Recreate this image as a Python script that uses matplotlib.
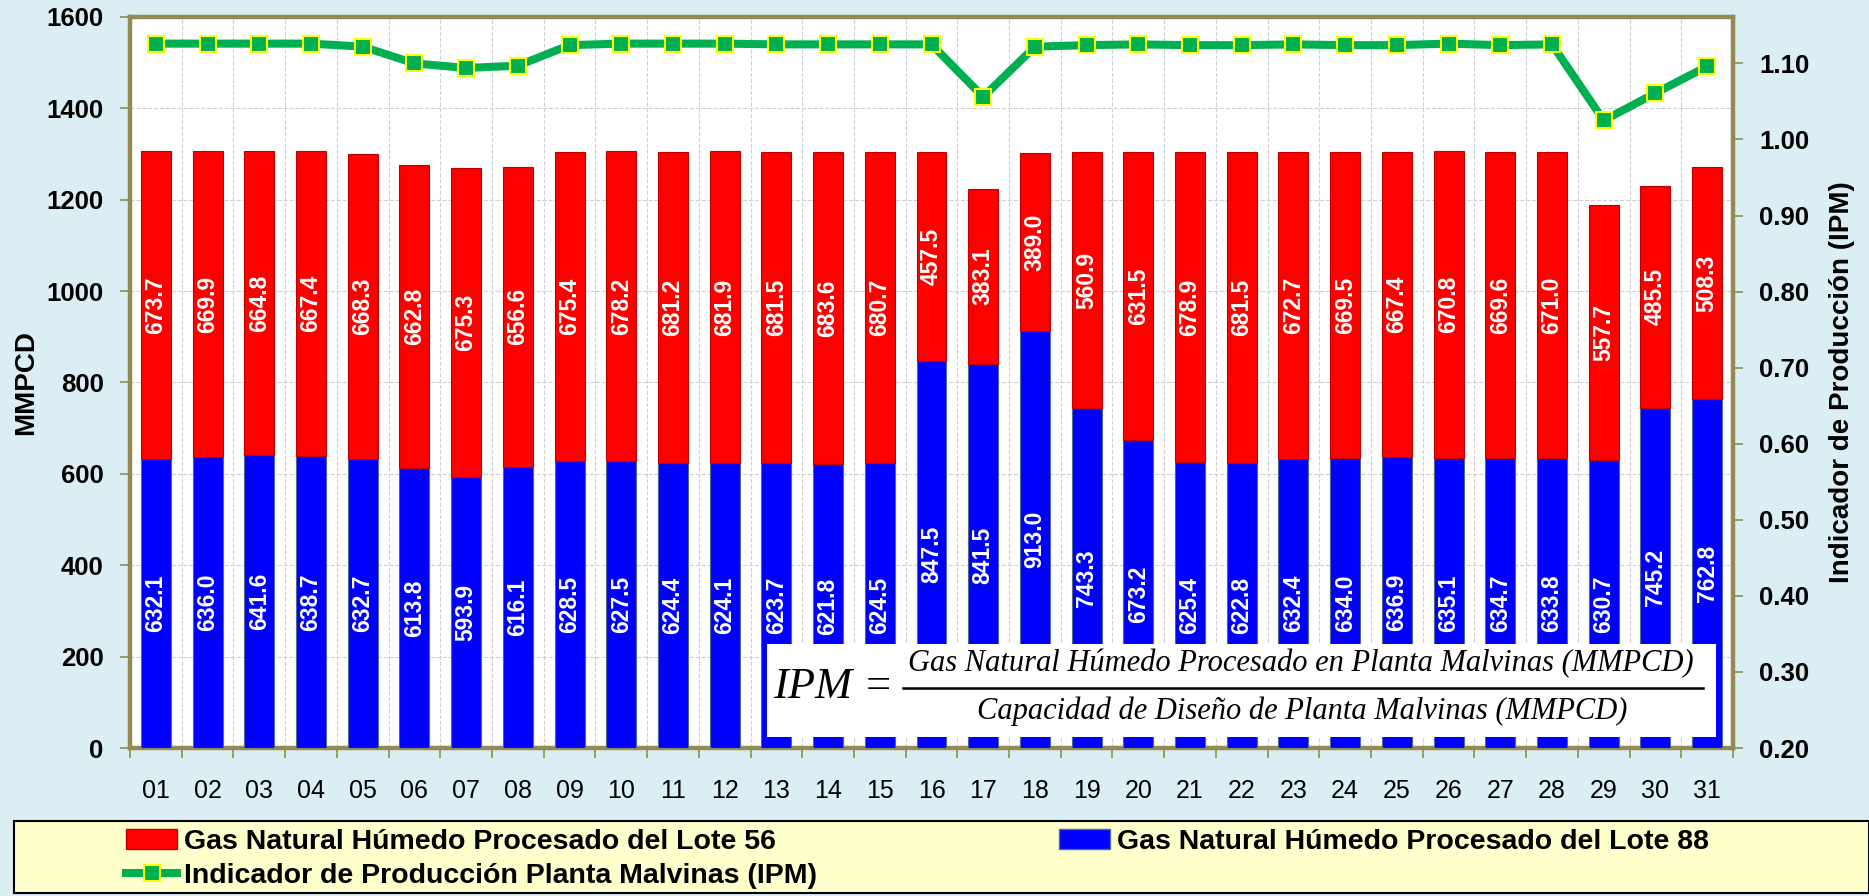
import matplotlib
matplotlib.use("Agg")
import matplotlib.pyplot as plt
from matplotlib.patches import Rectangle, Patch
from matplotlib.lines import Line2D
import numpy as np

plt.rcParams['font.family'] = ['Liberation Sans', 'DejaVu Sans']

days = ["01", "02", "03", "04", "05", "06", "07", "08", "09", "10", "11", "12", "13", "14", "15", "16",
        "17", "18", "19", "20", "21", "22", "23", "24", "25", "26", "27", "28", "29", "30", "31"]
lote88 = [632.1, 636.0, 641.6, 638.7, 632.7, 613.8, 593.9, 616.1, 628.5, 627.5, 624.4, 624.1, 623.7, 621.8,
          624.5, 847.5, 841.5, 913.0, 743.3, 673.2, 625.4, 622.8, 632.4, 634.0, 636.9, 635.1, 634.7, 633.8,
          630.7, 745.2, 762.8]
lote56 = [673.7, 669.9, 664.8, 667.4, 668.3, 662.8, 675.3, 656.6, 675.4, 678.2, 681.2, 681.9, 681.5, 683.6,
          680.7, 457.5, 383.1, 389.0, 560.9, 631.5, 678.9, 681.5, 672.7, 669.5, 667.4, 670.8, 669.6, 671.0,
          557.7, 485.5, 508.3]
ipm = [1.126, 1.126, 1.126, 1.126, 1.122, 1.100, 1.094, 1.097, 1.124, 1.126, 1.126, 1.126, 1.125, 1.125,
       1.125, 1.125, 1.056, 1.122, 1.124, 1.125, 1.124, 1.124, 1.125, 1.124, 1.124, 1.126, 1.124, 1.125,
       1.025, 1.061, 1.096]
left_ticks = [0, 200, 400, 600, 800, 1000, 1200, 1400, 1600]
right_ticks = [0.20, 0.30, 0.40, 0.50, 0.60, 0.70, 0.80, 0.90, 1.00, 1.10]

W, H = 1869, 896
BG = "#DAEEF3"
OLIVE = "#948A54"

fig = plt.figure(figsize=(W / 100, H / 100), dpi=100, facecolor=BG)
ax = fig.add_axes([130 / W, 1 - 748 / H, (1733 - 130) / W, (748 - 17) / H])
ax.set_facecolor("white")
x = np.arange(len(days))
bw = 0.58
b1 = ax.bar(x, lote88, bw, color="#0000FF", edgecolor="#4F6A8F", linewidth=0.8, zorder=3)
b2 = ax.bar(x, lote56, bw, bottom=lote88, color="#FF0000", edgecolor="#C00000", linewidth=0.8, zorder=3)
for c in (b1, b2):
    ax.bar_label(c, labels=[f"{v:.1f}" for v in c.datavalues], label_type="center", rotation=90,
                 color="white", fontsize=16.5, fontweight="bold", zorder=4)

ax.set_xlim(-0.5, len(days) - 0.5)
ax.set_ylim(0, 1600)
ax.set_yticks(left_ticks)
ax.set_yticklabels([str(v) for v in left_ticks], fontsize=18.5, fontweight="bold")
ax.set_xticks(x)
ax.set_xticklabels(days, fontsize=18)
ax.set_xticks(np.arange(-0.5, len(days), 1), minor=True)
ax.tick_params(axis="x", which="major", length=0, pad=22)
ax.tick_params(axis="x", which="minor", length=7, color=OLIVE, width=1.2)
ax.tick_params(axis="y", length=7, color=OLIVE, width=1.2, pad=12)
ax.grid(axis="y", which="major", color="#D0D0D0", linestyle="--", linewidth=0.8, zorder=0)
ax.grid(axis="x", which="minor", color="#D0D0D0", linestyle="--", linewidth=0.8, zorder=0)
for s in ax.spines.values():
    s.set_color(OLIVE)
    s.set_linewidth(3.2)
ax.set_ylabel("MMPCD", fontsize=20, fontweight="bold")
ax.yaxis.label.set_va("center")
ax.yaxis.set_label_coords(-(130 - 26) / (1733 - 130), 0.5)

ax2 = ax.twinx()
ax2.plot(x, ipm, color="#00B050", linewidth=5.8, marker="s", markersize=11.5,
         markerfacecolor="#00B050", markeredgecolor="#FFFF00", markeredgewidth=1.5, zorder=5)
ax2.set_ylim(0.2, 1.161)
ax2.set_yticks(right_ticks)
ax2.set_yticklabels([f"{v:.2f}" for v in right_ticks], fontsize=18.5, fontweight="bold")
ax2.tick_params(axis="y", length=7, color=OLIVE, width=1.2, pad=12)
for s in ax2.spines.values():
    s.set_visible(False)
ax2.set_ylabel("Indicador de Producción (IPM)", fontsize=20, fontweight="bold", rotation=90)
ax2.yaxis.label.set_va("center")
ax2.yaxis.set_label_coords((1842 - 130) / (1733 - 130), 0.5)

# Formula box
fig.patches.append(Rectangle((767 / W, 1 - 737 / H), 949 / W, 93 / H, transform=fig.transFigure,
                             facecolor="white", edgecolor="none", zorder=5))
serif = dict(family=["Liberation Serif", "DejaVu Serif"], style="italic", color="black", zorder=6)
fig.text(833 / W, 1 - 687 / H, "IPM =", fontsize=32, ha="center", va="center", **serif)
fig.text(1301 / W, 1 - 664 / H, "Gas Natural Húmedo Procesado en Planta Malvinas (MMPCD)",
         fontsize=22, ha="center", va="center", **serif)
fig.text(1302 / W, 1 - 711 / H, "Capacidad de Diseño de Planta Malvinas (MMPCD)",
         fontsize=22, ha="center", va="center", **serif)
fig.lines.append(Line2D([903 / W, 1703 / W], [1 - 688 / H, 1 - 688 / H], transform=fig.transFigure,
                        color="black", linewidth=1.8, zorder=6))

# Legend box
fig.patches.append(Rectangle((14 / W, 1 - 893 / H), (W - 14) / W, 72 / H, transform=fig.transFigure,
                             facecolor="#FFFFCC", edgecolor="black", linewidth=1.5, zorder=1))
h56 = Patch(facecolor="#FF0000", edgecolor="#C00000", label="Gas Natural Húmedo Procesado del Lote 56")
h88 = Patch(facecolor="#0000FF", edgecolor="#4F6A8F", label="Gas Natural Húmedo Procesado del Lote 88")
hipm = Line2D([], [], color="#00B050", linewidth=5.8, marker="s", markersize=11,
              markerfacecolor="#00B050", markeredgecolor="#FFFF00", markeredgewidth=1.5,
              label="Indicador de Producción Planta Malvinas (IPM)")
lprops = dict(prop={"size": 20.5, "weight": "bold"}, frameon=False, borderpad=0, borderaxespad=0,
              handlelength=1.8, handletextpad=0.22, labelspacing=0.28, handleheight=0.65)
leg1 = fig.legend(handles=[h56, hipm], loc="upper left", bbox_to_anchor=(126 / W, 1 - 829 / H), **lprops)
leg2 = fig.legend(handles=[h88], loc="upper left", bbox_to_anchor=(1059 / W, 1 - 829 / H), **lprops)

fig.savefig("out.png", dpi=100, facecolor=BG)
